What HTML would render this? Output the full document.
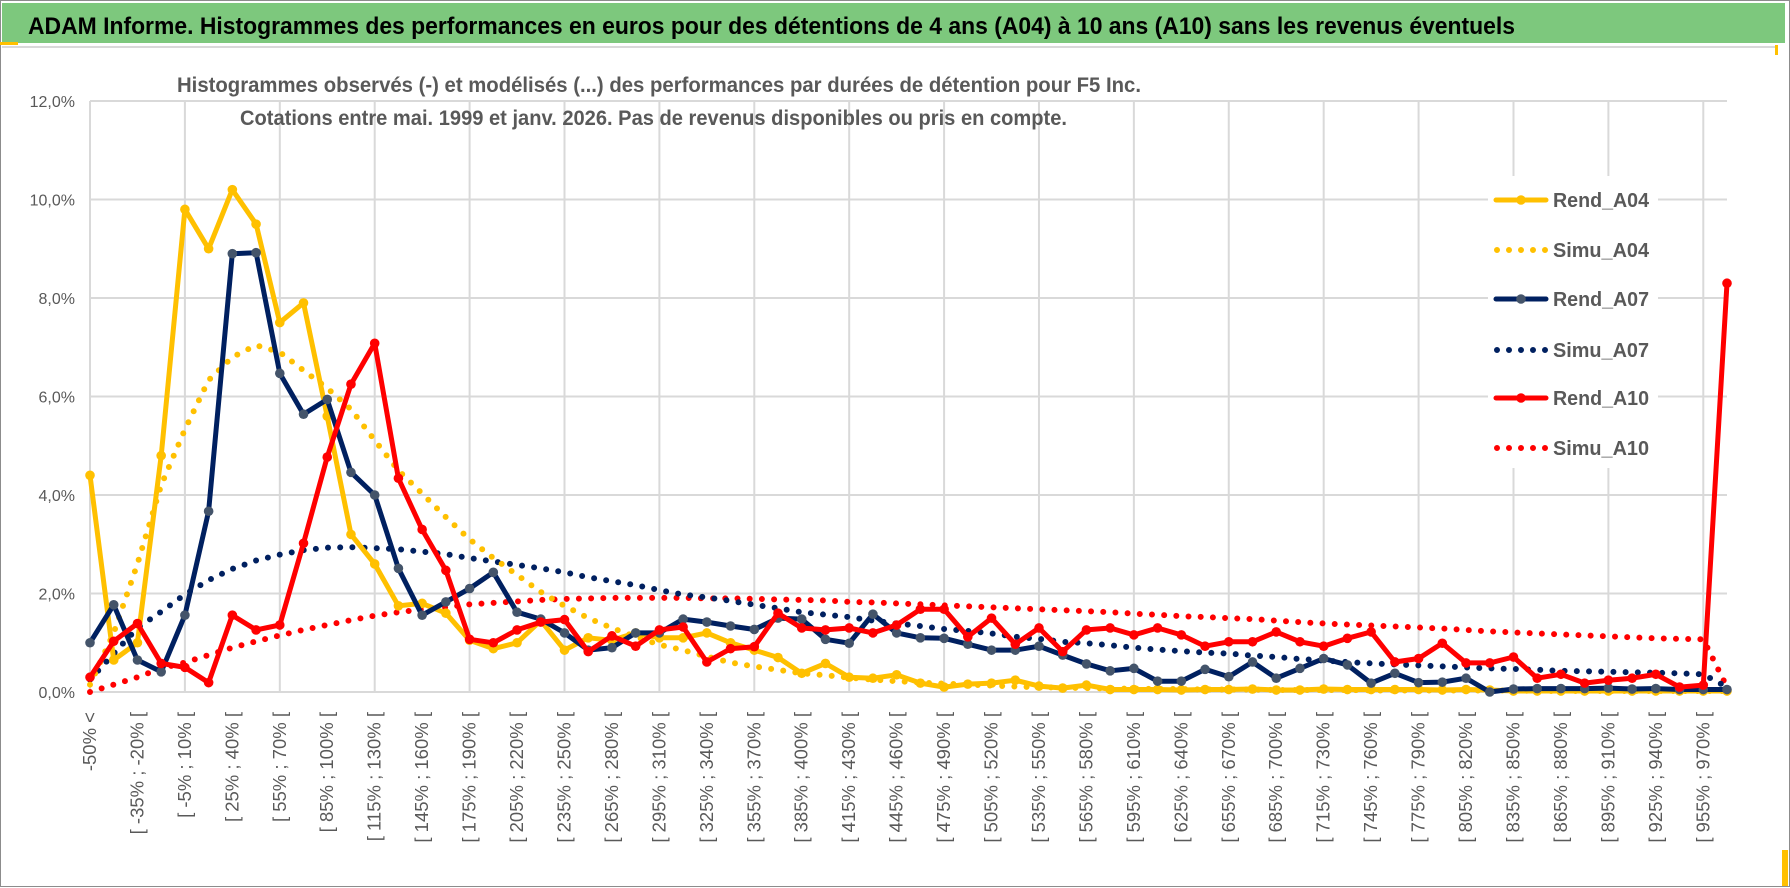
<!DOCTYPE html>
<html><head><meta charset="utf-8"><style>
html,body{margin:0;padding:0;background:#fff;}
svg{display:block;font-family:"Liberation Sans",sans-serif;}
</style></head><body>
<svg id="chart" width="1790" height="888" viewBox="0 0 1790 888" xmlns="http://www.w3.org/2000/svg">
<rect x="0.5" y="0.5" width="1789" height="886" fill="#fff" stroke="#8c8c8c"/>
<rect x="2" y="3" width="1783" height="40" fill="#7dc87d"/>
<rect x="0" y="42" width="18" height="3" fill="#ffc000"/>
<line x1="2" y1="47" x2="1778" y2="47" stroke="#d9d9d9" stroke-width="2"/>
<rect x="1775" y="45" width="3" height="10" fill="#ffc000"/>
<rect x="1782" y="850" width="6" height="36" fill="#ffc000"/>
<text x="28" y="34" font-size="24" font-weight="bold" fill="#000" textLength="1487" lengthAdjust="spacingAndGlyphs">ADAM Informe. Histogrammes des performances en euros pour des détentions de 4 ans (A04) à 10 ans (A10) sans les revenus éventuels</text>
<g id="grid"></g>
<text x="177" y="92" font-size="21" font-weight="bold" fill="#595959" textLength="964" lengthAdjust="spacingAndGlyphs">Histogrammes observés (-) et modélisés (...) des performances par durées de détention pour F5 Inc.</text>
<text x="240" y="125" font-size="21" font-weight="bold" fill="#595959" textLength="827" lengthAdjust="spacingAndGlyphs">Cotations entre mai. 1999 et janv. 2026. Pas de revenus disponibles ou pris en compte.</text>
<g id="yticks"></g>
<g id="xticks"></g>
<g id="series"></g>
<g id="legend"></g>
</svg>
<script>
const rendA04 = [4.4,0.65,1.0,4.8,9.8,9.0,10.2,9.5,7.5,7.9,5.6,3.2,2.6,1.75,1.8,1.6,1.05,0.88,1.0,1.45,0.85,1.1,1.05,1.2,1.1,1.1,1.2,1.0,0.85,0.7,0.38,0.58,0.3,0.28,0.35,0.18,0.1,0.16,0.18,0.24,0.12,0.08,0.14,0.05,0.05,0.05,0.04,0.05,0.05,0.06,0.04,0.04,0.06,0.05,0.05,0.05,0.05,0.04,0.05,0.04,0.02,0.02,0.02,0.02,0.02,0.02,0.02,0.02,0.02,0.02];
const simuA04 = [0.15,1.2,2.6,4.2,5.33,6.33,6.8,7.04,6.9,6.53,6.17,5.74,5.11,4.5,4.03,3.55,3.1,2.72,2.38,2.03,1.75,1.5,1.3,1.12,0.96,0.85,0.72,0.6,0.52,0.45,0.38,0.34,0.29,0.25,0.22,0.19,0.17,0.15,0.13,0.11,0.1,0.09,0.08,0.07,0.07,0.06,0.06,0.05,0.05,0.05,0.04,0.04,0.04,0.04,0.03,0.03,0.03,0.03,0.03,0.03,0.03,0.02,0.02,0.02,0.02,0.02,0.02,0.02,0.02,0.02];
const rendA07 = [1.0,1.77,0.65,0.41,1.56,3.67,8.9,8.92,6.47,5.64,5.94,4.46,4.0,2.51,1.56,1.83,2.1,2.43,1.62,1.48,1.2,0.85,0.9,1.2,1.2,1.48,1.42,1.34,1.27,1.5,1.48,1.07,0.99,1.58,1.2,1.1,1.09,0.97,0.85,0.85,0.93,0.75,0.57,0.43,0.48,0.22,0.22,0.46,0.31,0.61,0.28,0.48,0.68,0.55,0.18,0.38,0.19,0.2,0.28,0.0,0.06,0.07,0.07,0.07,0.08,0.06,0.07,0.05,0.05,0.05];
const simuA07 = [0.25,0.78,1.3,1.63,1.98,2.27,2.5,2.67,2.79,2.88,2.93,2.94,2.92,2.9,2.85,2.8,2.72,2.65,2.58,2.51,2.43,2.33,2.25,2.17,2.07,1.98,1.92,1.85,1.77,1.7,1.62,1.57,1.52,1.45,1.39,1.34,1.28,1.24,1.19,1.12,1.08,1.02,0.99,0.95,0.9,0.86,0.83,0.8,0.78,0.74,0.71,0.67,0.64,0.61,0.58,0.56,0.54,0.52,0.5,0.48,0.47,0.45,0.43,0.42,0.41,0.4,0.39,0.38,0.36,0.1];
const rendA10 = [0.3,1.03,1.39,0.58,0.5,0.19,1.56,1.26,1.36,3.02,4.77,6.25,7.08,4.34,3.3,2.47,1.07,1.0,1.26,1.42,1.47,0.82,1.14,0.93,1.26,1.32,0.61,0.88,0.92,1.6,1.3,1.26,1.3,1.2,1.36,1.68,1.68,1.12,1.5,0.97,1.3,0.82,1.26,1.3,1.16,1.3,1.16,0.93,1.02,1.02,1.22,1.02,0.93,1.09,1.22,0.61,0.68,0.99,0.59,0.59,0.71,0.28,0.36,0.18,0.24,0.28,0.36,0.1,0.14,8.3];
const simuA10 = [0.0,0.15,0.3,0.48,0.6,0.75,0.9,1.03,1.15,1.26,1.36,1.46,1.55,1.62,1.68,1.72,1.78,1.81,1.84,1.87,1.89,1.9,1.91,1.91,1.91,1.91,1.9,1.9,1.89,1.88,1.87,1.86,1.83,1.82,1.8,1.78,1.76,1.74,1.72,1.7,1.68,1.66,1.64,1.62,1.59,1.57,1.54,1.52,1.5,1.48,1.45,1.42,1.39,1.37,1.35,1.33,1.31,1.29,1.26,1.23,1.21,1.19,1.17,1.15,1.13,1.11,1.09,1.08,1.07,0.1];
const yTicks = [0,2,4,6,8,10,12];
const seriesNames = ["Rend_A04","Simu_A04","Rend_A07","Simu_A07","Rend_A10","Simu_A10"];

const NS = "http://www.w3.org/2000/svg";
const N = rendA04.length;
const X0 = 90, X1 = 1727, Y0 = 692, YTOP = 101, YMAX = 12;
function xAt(i){ return X0 + i*(X1-X0)/(N-1); }
function yAt(v){ return Y0 - v*(Y0-YTOP)/YMAX; }
function catLabel(i){
  if(i===0) return "-50% <";
  const lo = -50 + 15*(i-1);
  if(i===N-1) return "970% <";
  return "[ " + lo + "% ; " + (lo+15) + "% [";
}
function mk(tag, attrs, parent){
  const e = document.createElementNS(NS, tag);
  for(const k in attrs) e.setAttribute(k, attrs[k]);
  parent.appendChild(e);
  return e;
}
const grid = document.getElementById('grid');
yTicks.forEach(t=>{
  const l = mk('line',{x1:X0,x2:X1,y1:yAt(t),y2:yAt(t),stroke:'#d9d9d9','stroke-width':2},grid);
  
  
});
for(let i=0;i<N;i+=4){
  const l = mk('line',{x1:xAt(i),x2:xAt(i),y1:YTOP,y2:Y0,stroke:'#d9d9d9','stroke-width':2},grid);
  
  
}
const yt = document.getElementById('yticks');
yTicks.forEach(t=>{
  const tx = mk('text',{x:75,y:yAt(t)+6,'text-anchor':'end','font-size':16,fill:'#595959'},yt);
  tx.textContent = t.toFixed(1).replace('.',',')+'%';
  
  
});
const xt = document.getElementById('xticks');
for(let i=0;i<N;i+=2){
  const x = xAt(i)+6, y = 712;
  const tx = mk('text',{x:x,y:y,'text-anchor':'end','font-size':18.5,fill:'#595959',transform:'rotate(-90 '+x+' '+y+')'},xt);
  tx.textContent = catLabel(i);
  
  
}
const sg = document.getElementById('series');
function pts(arr){ return arr.map((v,i)=>xAt(i).toFixed(1)+','+yAt(v).toFixed(1)).join(' '); }
function dotted(arr,color,name){
  const p = mk('polyline',{points:pts(arr),fill:'none',stroke:color,'stroke-width':6,'stroke-linecap':'round','stroke-dasharray':'0 12.2'},sg);
  
  
}
function solid(arr,color,mcolor,name){
  const p = mk('polyline',{points:pts(arr),fill:'none',stroke:color,'stroke-width':5,'stroke-linejoin':'round'},sg);
  
  
  arr.forEach((v,i)=>{
    const c = mk('circle',{cx:xAt(i),cy:yAt(v),r:4.8,fill:mcolor},sg);
    
    
  });
}
dotted(simuA10,'#ff0000','simu-a10-line');
dotted(simuA07,'#002060','simu-a07-line');
dotted(simuA04,'#ffc000','simu-a04-line');
solid(rendA04,'#ffc000','#ffc000','rend-a04-line');
solid(rendA07,'#002060','#44546a','rend-a07-line');
solid(rendA10,'#ff0000','#ff0000','rend-a10-line');

const lg = document.getElementById('legend');
const bg = mk('rect',{x:1488,y:176,width:170,height:292,fill:'#fff'},lg);


const lgColors = ['#ffc000','#ffc000','#002060','#002060','#ff0000','#ff0000'];
const lgMark = ['#ffc000',null,'#44546a',null,'#ff0000',null];
const lgY = [200,250,299,350,398,448];
seriesNames.forEach((nm,k)=>{
  const y = lgY[k];
  if(lgMark[k]){
    const l = mk('line',{x1:1496,x2:1546,y1:y,y2:y,stroke:lgColors[k],'stroke-width':5,'stroke-linecap':'round'},lg);
    
    
    const c = mk('circle',{cx:1521,cy:y,r:4.8,fill:lgMark[k]},lg);
    
    
  } else {
    const l = mk('line',{x1:1497,x2:1546,y1:y,y2:y,stroke:lgColors[k],'stroke-width':6,'stroke-linecap':'round','stroke-dasharray':'0 12'},lg);
    
    
  }
  const t = mk('text',{x:1553,y:y+7,'font-size':20,'font-weight':'bold',fill:'#595959',textLength:96,lengthAdjust:'spacingAndGlyphs'},lg);
  t.textContent = nm;
  
  
});
</script>
</body></html>
